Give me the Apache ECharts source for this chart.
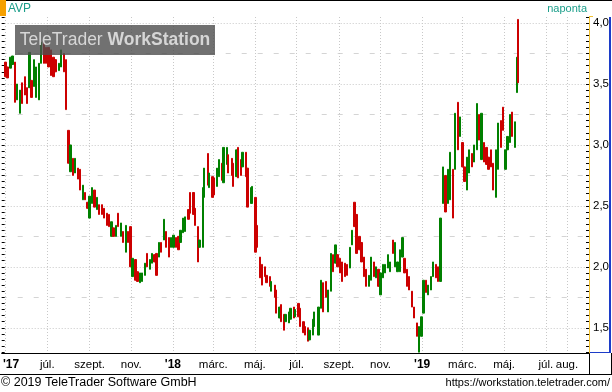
<!DOCTYPE html>
<html><head><meta charset="utf-8">
<script src="https://cdn.jsdelivr.net/npm/echarts@6/dist/echarts.min.js"></script>
<style>html,body{margin:0;padding:0;background:#fff}#c{width:612px;height:392px}</style>
</head><body><div id="c"></div>
<script>
// ---- data ----
const dates = [
'2017-05-01','2017-05-04','2017-05-08','2017-05-11','2017-05-15','2017-05-18','2017-05-22','2017-05-25','2017-05-29',
'2017-06-01','2017-06-05','2017-06-08','2017-06-12','2017-06-15','2017-06-19','2017-06-22','2017-06-26','2017-06-29',
'2017-07-03','2017-07-06','2017-07-10','2017-07-13','2017-07-18','2017-07-21','2017-07-25','2017-07-28',
'2017-08-01','2017-08-04','2017-08-08','2017-08-11','2017-08-15','2017-08-18','2017-08-22','2017-08-25','2017-08-29',
'2017-09-01','2017-09-05','2017-09-08','2017-09-12','2017-09-15','2017-09-19','2017-09-22','2017-09-26','2017-09-29',
'2017-10-03','2017-10-06','2017-10-10','2017-10-13','2017-10-17','2017-10-20','2017-10-24','2017-10-27','2017-10-31',
'2017-11-03','2017-11-07','2017-11-10','2017-11-14','2017-11-17','2017-11-21','2017-11-24','2017-11-28',
'2017-12-01','2017-12-05','2017-12-08','2017-12-12','2017-12-15','2017-12-19','2017-12-22','2017-12-26','2017-12-29',
'2018-01-02','2018-01-05','2018-01-09','2018-01-12','2018-01-16','2018-01-19','2018-01-24','2018-01-26','2018-01-31',
'2018-02-02','2018-02-07','2018-02-09','2018-02-14','2018-02-16','2018-02-21','2018-02-23','2018-02-28',
'2018-03-02','2018-03-07','2018-03-09','2018-03-14','2018-03-16','2018-03-21','2018-03-23','2018-03-28','2018-03-30',
'2018-04-04','2018-04-06','2018-04-11','2018-04-13','2018-04-18','2018-04-20','2018-04-25','2018-04-27',
'2018-05-02','2018-05-04','2018-05-09','2018-05-11','2018-05-16','2018-05-18','2018-05-23','2018-05-25','2018-05-30',
'2018-06-01','2018-06-06','2018-06-08','2018-06-13','2018-06-15','2018-06-20','2018-06-22','2018-06-27','2018-06-29',
'2018-07-04','2018-07-06','2018-07-11','2018-07-13','2018-07-18','2018-07-20','2018-07-25','2018-07-27',
'2018-08-02','2018-08-06','2018-08-09','2018-08-13','2018-08-16','2018-08-20','2018-08-23','2018-08-27','2018-08-30',
'2018-09-03','2018-09-06','2018-09-10','2018-09-13','2018-09-17','2018-09-20','2018-09-24','2018-09-27',
'2018-10-01','2018-10-04','2018-10-08','2018-10-11','2018-10-15','2018-10-18','2018-10-22','2018-10-25','2018-10-29',
'2018-11-01','2018-11-05','2018-11-08','2018-11-12','2018-11-15','2018-11-19','2018-11-22','2018-11-26','2018-11-29',
'2018-12-03','2018-12-06','2018-12-10','2018-12-13','2018-12-17','2018-12-20','2018-12-24','2018-12-27','2018-12-31',
'2019-01-03','2019-01-07','2019-01-10','2019-01-14','2019-01-17','2019-01-21','2019-01-24','2019-01-28','2019-01-31',
'2019-02-04','2019-02-08','2019-02-11','2019-02-15','2019-02-18','2019-02-22','2019-02-25',
'2019-03-01','2019-03-04','2019-03-08','2019-03-11','2019-03-15','2019-03-18','2019-03-22','2019-03-25','2019-03-29',
'2019-04-01','2019-04-05','2019-04-08','2019-04-12','2019-04-15','2019-04-19','2019-04-22','2019-04-26','2019-04-29',
'2019-05-03','2019-05-06','2019-05-10','2019-05-13','2019-05-17','2019-05-20','2019-05-21'
];
const opens = [
3.68,3.64,3.63,3.66,3.68,3.37,3.26,3.51,3.56,
3.47,3.47,3.53,3.48,3.39,3.37,3.67,3.84,3.80,
3.80,3.78,3.72,3.70,3.61,3.64,3.75,3.70,
3.12,2.78,2.89,2.77,2.81,2.80,2.55,2.61,2.53,
2.40,2.52,2.63,2.47,2.51,2.51,2.48,2.44,2.43,
2.25,2.32,2.25,2.44,2.25,2.29,2.12,2.29,2.33,
1.92,2.06,1.96,1.87,1.88,1.93,2.11,1.98,
2.03,2.10,2.11,2.08,2.20,2.22,2.29,2.24,2.16,
2.16,2.24,2.25,2.20,2.28,2.29,2.47,2.61,2.61,
2.48,2.33,2.16,2.16,2.57,2.93,2.65,2.74,
2.73,2.66,2.74,2.85,2.69,2.84,2.92,2.89,2.85,
2.74,2.98,2.88,2.82,2.94,2.81,2.52,2.52,
2.57,2.34,2.08,2.02,2.00,1.93,1.92,1.80,1.85,
1.81,1.58,1.69,1.61,1.55,1.54,1.57,1.67,1.59,
1.70,1.66,1.55,1.51,1.50,1.40,1.44,1.51,
1.44,1.66,1.87,1.88,1.63,1.80,2.10,2.03,2.10,
2.07,2.04,2.03,2.02,1.99,2.18,2.53,2.43,
2.25,2.20,2.08,1.98,1.84,1.89,2.04,1.91,1.98,
1.77,1.91,1.95,1.99,1.96,2.22,2.00,1.96,1.96,
2.08,2.07,1.98,1.92,1.80,1.67,1.54,1.30,1.43,
1.62,1.89,1.77,1.81,1.92,2.02,2.00,1.88,2.52,
2.75,2.52,2.55,2.80,2.80,3.35,3.07,
3.02,2.82,2.63,2.77,2.93,2.86,2.96,3.25,2.88,
3.02,2.98,2.90,2.96,2.85,2.57,2.80,3.20,3.31,
2.80,2.96,3.02,3.27,2.98,3.43,4.03
];
const closes = [
3.56,3.55,3.72,3.73,3.35,3.50,3.45,3.34,3.41,
3.34,3.76,3.39,3.70,3.64,3.67,3.84,3.67,3.67,
3.64,3.57,3.56,3.60,3.67,3.78,3.60,3.29,
2.85,3.00,2.75,2.89,2.72,2.63,2.67,2.55,2.48,
2.58,2.65,2.49,2.57,2.43,2.43,2.40,2.34,2.33,
2.37,2.25,2.34,2.33,2.36,2.20,2.34,2.20,2.00,
2.07,1.89,1.88,1.95,1.95,2.03,2.00,2.06,
2.11,2.04,1.93,2.20,2.12,2.39,2.16,2.08,2.24,
2.26,2.16,2.14,2.30,2.40,2.41,2.39,2.44,2.43,
2.34,2.04,2.22,2.65,2.81,2.67,2.77,2.57,
2.59,2.81,2.88,2.71,2.98,2.98,2.77,2.75,2.66,
2.96,2.73,2.75,2.94,2.74,2.49,2.65,2.66,
2.12,2.16,1.91,1.85,1.92,1.87,1.84,1.88,1.75,
1.62,1.67,1.55,1.48,1.61,1.63,1.66,1.58,1.65,
1.59,1.51,1.46,1.44,1.39,1.48,1.57,1.63,
1.67,1.89,1.63,1.75,1.81,2.11,1.96,2.18,2.00,
1.95,1.88,1.92,1.93,2.16,2.30,2.33,2.11,
2.14,2.04,1.92,1.84,1.93,2.08,1.92,2.00,1.84,
1.95,2.02,2.02,2.10,2.04,2.11,2.20,2.04,2.14,
2.24,1.95,1.84,1.81,1.67,1.58,1.43,1.51,1.59,
1.89,1.79,1.85,1.92,2.04,1.91,1.88,2.40,2.82,
2.45,2.80,2.94,2.40,3.26,2.96,3.23,
2.82,2.70,2.90,2.96,2.82,3.00,3.34,3.04,3.26,
2.86,2.84,2.80,2.82,2.63,2.96,3.18,2.98,3.12,
2.96,3.07,3.25,3.07,3.19,3.72,3.51
];
const monthTicks = ['2017-05-01','2017-07-01','2017-09-01','2017-11-01','2018-01-01','2018-03-01','2018-05-01',
  '2018-07-01','2018-09-01','2018-11-01','2019-01-01','2019-03-01','2019-05-01','2019-07-01','2019-08-01'];
const monthLabels = ["'17",'júl.','szept.','nov.',"'18",'márc.','máj.','júl.','szept.','nov.',"'19",'márc.','máj.','júl.','aug.'];
const yLabelValues = [1.5, 2.0, 2.5, 3.0, 3.5, 4.0];
const yQuarterValues = [1.75, 2.25, 2.75, 3.25, 3.75];
const yRange = [1.293, 4.05];
const xRange = ['2017-04-25 07:00', '2019-09-02 06:00'];

// ---- helpers ----
const FONT = '"Liberation Sans", Arial, sans-serif';
function ts(s) { const p = s.split(/[- :]/).map(Number); return new Date(p[0], p[1]-1, p[2], p[3]||0, p[4]||0).getTime(); }
const monthTs = monthTicks.map(ts);
const yTicks = []; for (let k = 26; k <= 81; k++) yTicks.push(k / 20);
const candles = dates.map((d, i) => [ts(d), opens[i], closes[i], Math.min(opens[i], closes[i]), Math.max(opens[i], closes[i])]);
const lastClose = closes[closes.length - 1];
const comma = v => v.toFixed(1).replace('.', ',');

const GREEN = '#008000', RED = '#cc0000', GRID = '#c8c8c8';
const baseY = { type: 'value', min: yRange[0], max: yRange[1], scale: true };

const chart = echarts.init(document.getElementById('c'), null, { renderer: 'canvas' });
chart.setOption({
  animation: false,
  backgroundColor: '#fff',
  textStyle: { fontFamily: FONT },
  grid: { left: 0, right: 23, top: 17, bottom: 39, containLabel: false },
  xAxis: {
    type: 'value', min: ts(xRange[0]), max: ts(xRange[1]), scale: true,
    axisLine: { show: true, onZero: false, lineStyle: { color: '#000', width: 1 } },
    axisTick: { show: false, customValues: monthTs },
    axisLabel: {
      customValues: monthTs, color: '#000', fontSize: 11.5, fontFamily: FONT, margin: 6, hideOverlap: false,
      formatter: (v) => {
        const i = monthTs.indexOf(v); const t = i >= 0 ? monthLabels[i] : '';
        if (t.charAt(0) === "'") return (i === 0 ? '{y0|' : '{y|') + t + '}';
        return t;
      },
      rich: {
        y: { fontWeight: 'bold', fontSize: 12, color: '#000', fontFamily: FONT },
        y0: { fontWeight: 'bold', fontSize: 12, color: '#000', fontFamily: FONT, padding: [0, 0, 0, 11] }
      }
    },
    splitLine: { show: true, lineStyle: { color: GRID, width: 1, type: [1, 2] } }
  },
  yAxis: [
    Object.assign({}, baseY, {
      position: 'right',
      axisLine: { show: true, onZero: false, lineStyle: { color: '#f0c030', width: 1 } },
      axisTick: { show: true, inside: true, length: 3, lineStyle: { color: '#000' }, customValues: yTicks },
      axisLabel: { show: true, customValues: yLabelValues, formatter: comma, color: '#000', fontSize: 11.5, fontFamily: FONT, margin: 4 },
      splitLine: { show: false }
    }),
    Object.assign({}, baseY, {
      position: 'left',
      axisLine: { show: false },
      axisTick: { show: true, inside: true, length: 3, lineStyle: { color: '#000' }, customValues: yTicks },
      axisLabel: { show: false },
      splitLine: { show: false }
    }),
    Object.assign({}, baseY, {
      position: 'right',
      axisLine: { show: false },
      axisTick: { show: false, customValues: yLabelValues },
      axisLabel: { show: false },
      splitLine: { show: true, lineStyle: { color: GRID, width: 1, type: [1, 2] } }
    }),
    Object.assign({}, baseY, {
      position: 'right',
      axisLine: { show: false },
      axisTick: { show: false, customValues: yQuarterValues },
      axisLabel: { show: false },
      splitLine: { show: true, lineStyle: { color: '#d4d4d4', width: 1, type: [5, 11] } }
    })
  ],
  series: [{
    type: 'candlestick',
    name: 'AVP',
    yAxisIndex: 0,
    data: candles,
    encode: { x: 0, y: [1, 2, 3, 4] },
    barWidth: 1.8,
    itemStyle: { color: GREEN, color0: RED, borderColor: GREEN, borderColor0: RED, borderWidth: 1 },
    markLine: {
      silent: true, symbol: ['none', 'none'], animation: false,
      lineStyle: { opacity: 0 },
      label: {
        position: 'end', distance: 2, formatter: p => comma(p.value),
        backgroundColor: '#000', color: '#fff', fontSize: 11.5, fontFamily: FONT, padding: [2, 3, 1, 2]
      },
      data: [{ yAxis: lastClose }]
    }
  }],
  graphic: [
    { type: 'line', shape: { x1: 0, y1: 0.5, x2: 612, y2: 0.5 }, style: { stroke: '#000', lineWidth: 1 } },
    { type: 'rect', shape: { x: 0, y: 0, width: 6, height: 16 }, style: { fill: '#f5a000' } },
    { type: 'text', x: 8, y: 9, style: { text: 'AVP', fill: '#1a9e8a', fontSize: 12, fontFamily: FONT, verticalAlign: 'middle' } },
    { type: 'text', x: 587, y: 9, style: { text: 'naponta', fill: '#1a9e8a', fontSize: 11, fontFamily: FONT, align: 'right', verticalAlign: 'middle' } },
    { type: 'line', shape: { x1: 589, y1: 16.5, x2: 593, y2: 16.5 }, style: { stroke: '#f0c030', lineWidth: 1 } },
    { type: 'line', shape: { x1: 610, y1: 17, x2: 610, y2: 353 }, style: { stroke: '#1c3cc8', lineWidth: 2 } },
    { type: 'line', shape: { x1: 589, y1: 352.5, x2: 611, y2: 352.5 }, style: { stroke: '#1c3cc8', lineWidth: 1 } },
    { type: 'line', shape: { x1: 0, y1: 374.5, x2: 612, y2: 374.5 }, style: { stroke: '#000', lineWidth: 1 } },
    { type: 'line', shape: { x1: 589.5, y1: 353, x2: 589.5, y2: 374 }, style: { stroke: '#000', lineWidth: 1 } },
    { type: 'line', shape: { x1: 611.5, y1: 353, x2: 611.5, y2: 374 }, style: { stroke: '#000', lineWidth: 1 } },
    { type: 'text', x: 1, y: 383, style: { text: '© 2019 TeleTrader Software GmbH', fill: '#000', fontSize: 12.5, fontFamily: FONT, verticalAlign: 'middle' } },
    { type: 'text', x: 610, y: 383, style: { text: 'https://workstation.teletrader.com/', fill: '#000', fontSize: 11, fontFamily: FONT, align: 'right', verticalAlign: 'middle' } },
    {
      type: 'group', x: 15, y: 25, z: 100,
      children: [
        { type: 'rect', z: 100, shape: { x: 0, y: 0, width: 200, height: 30 }, style: { fill: 'rgba(78,78,78,0.8)' } },
        { type: 'text', z: 101, x: 100, y: 15, style: {
            text: '{a|TeleTrader }{b|WorkStation}', align: 'center', verticalAlign: 'middle',
            rich: { a: { fontSize: 17.5, fill: '#d6d6d6', fontFamily: FONT }, b: { fontSize: 17.5, fontWeight: 'bold', fill: '#d6d6d6', fontFamily: FONT } }
        } }
      ]
    }
  ]
});
</script>
</body></html>
